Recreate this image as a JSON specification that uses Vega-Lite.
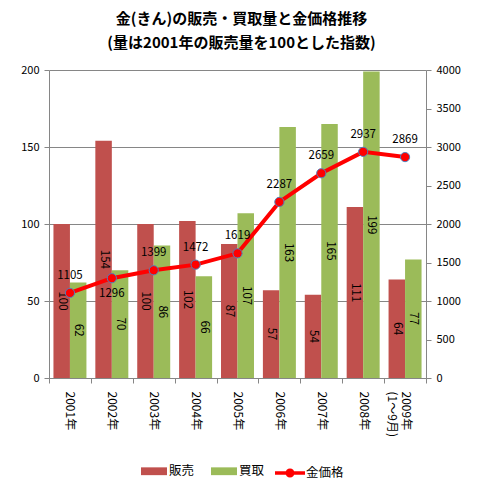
{
  "$schema": "https://vega.github.io/schema/vega-lite/v6.json",
  "width": 377,
  "height": 308,
  "autosize": {"type": "none"},
  "padding": {"left": 49, "top": 70, "right": 57, "bottom": 110},
  "background": "white",
  "title": {
    "text": ["金(きん)の販売・買取量と金価格推移", "(量は2001年の販売量を100とした指数)"],
    "font": "Noto Sans CJK JP",
    "fontSize": 15,
    "fontWeight": "bold",
    "lineHeight": 24,
    "anchor": "middle",
    "frame": "group",
    "offset": 13,
    "dx": 4,
    "color": "black"
  },
  "datasets": {
    "bars": [
      {"year": "2001年", "series": "販売", "value": 100},
      {"year": "2001年", "series": "買取", "value": 62},
      {"year": "2002年", "series": "販売", "value": 154},
      {"year": "2002年", "series": "買取", "value": 70},
      {"year": "2003年", "series": "販売", "value": 100},
      {"year": "2003年", "series": "買取", "value": 86},
      {"year": "2004年", "series": "販売", "value": 102},
      {"year": "2004年", "series": "買取", "value": 66},
      {"year": "2005年", "series": "販売", "value": 87},
      {"year": "2005年", "series": "買取", "value": 107},
      {"year": "2006年", "series": "販売", "value": 57},
      {"year": "2006年", "series": "買取", "value": 163},
      {"year": "2007年", "series": "販売", "value": 54},
      {"year": "2007年", "series": "買取", "value": 165},
      {"year": "2008年", "series": "販売", "value": 111},
      {"year": "2008年", "series": "買取", "value": 199},
      {"year": "2009年 (1～9月)", "series": "販売", "value": 64},
      {"year": "2009年 (1～9月)", "series": "買取", "value": 77}
    ],
    "price": [
      {"year": "2001年", "price": 1105},
      {"year": "2002年", "price": 1296},
      {"year": "2003年", "price": 1399},
      {"year": "2004年", "price": 1472},
      {"year": "2005年", "price": 1619},
      {"year": "2006年", "price": 2287},
      {"year": "2007年", "price": 2659},
      {"year": "2008年", "price": 2937},
      {"year": "2009年 (1～9月)", "price": 2869}
    ]
  },
  "config": {
    "view": {"stroke": null},
    "font": "Noto Sans CJK JP",
    "axis": {
      "domainColor": "#868686",
      "tickColor": "#868686",
      "gridColor": "#868686",
      "labelColor": "black",
      "labelFontSize": 11,
      "labelFont": "Noto Sans CJK JP",
      "tickSize": 5,
      "labelPadding": 5,
      "title": null
    },
    "legend": {
      "labelFont": "Noto Sans CJK JP",
      "labelFontSize": 12.5,
      "labelColor": "black",
      "padding": 0
    }
  },
  "layer": [
    {
      "data": {"name": "bars"},
      "mark": {"type": "bar"},
      "encoding": {
        "x": {
          "field": "year",
          "type": "nominal",
          "sort": null,
          "scale": {"paddingInner": 0, "paddingOuter": 0},
          "axis": {
            "tickBand": "extent",
            "labelAngle": 90,
            "labelAlign": "left",
            "labelBaseline": "middle",
            "labelPadding": 8,
            "labelFontSize": 12,
            "labelExpr": "split(datum.label, ' ')",
            "title": null
          }
        },
        "xOffset": {
          "field": "series",
          "type": "nominal",
          "sort": ["販売", "買取"],
          "scale": {"paddingInner": 0, "paddingOuter": 0.27}
        },
        "y": {
          "field": "value",
          "type": "quantitative",
          "scale": {"domain": [0, 200]},
          "axis": {"orient": "left", "values": [0, 50, 100, 150, 200], "grid": true, "title": null}
        },
        "color": {
          "field": "series",
          "type": "nominal",
          "scale": {"domain": ["販売", "買取"], "range": ["#C0504D", "#9BBB59"]},
          "legend": {
            "title": null,
            "orient": "none",
            "legendX": 92,
            "legendY": 388,
            "direction": "horizontal",
            "symbolType": "M-1,-0.3H1V0.3H-1Z",
            "symbolSize": 676,
            "symbolStrokeWidth": 0,
            "labelOffset": 2,
            "columnPadding": 16
          }
        }
      }
    },
    {
      "data": {"name": "bars"},
      "mark": {"type": "text", "angle": 90, "fontSize": 11.5, "align": "center", "baseline": "middle", "color": "black"},
      "encoding": {
        "x": {"field": "year", "type": "nominal", "sort": null},
        "xOffset": {"field": "series", "type": "nominal", "sort": ["販売", "買取"]},
        "y": {"field": "value", "type": "quantitative", "scale": {"domain": [0, 400]}, "axis": null},
        "text": {"field": "value", "type": "quantitative"}
      }
    },
    {
      "data": {"name": "price"},
      "mark": {"type": "line", "color": "#FF0000", "strokeWidth": 4},
      "encoding": {
        "x": {"field": "year", "type": "nominal", "sort": null},
        "y": {
          "field": "price",
          "type": "quantitative",
          "scale": {"domain": [0, 4000]},
          "axis": {"orient": "right", "values": [0, 500, 1000, 1500, 2000, 2500, 3000, 3500, 4000], "format": "d", "grid": false, "title": null}
        }
      }
    },
    {
      "data": {"name": "price"},
      "mark": {"type": "point", "filled": true, "stroke": "#4F81BD", "strokeWidth": 1, "size": 85, "opacity": 1},
      "encoding": {
        "x": {"field": "year", "type": "nominal", "sort": null},
        "y": {"field": "price", "type": "quantitative", "scale": {"domain": [0, 4000]}, "axis": null},
        "fill": {
          "datum": "金価格",
          "scale": {"domain": ["金価格"], "range": ["#FF0000"]},
          "legend": {
            "title": null,
            "orient": "none",
            "legendX": 226,
            "legendY": 388,
            "symbolType": "M-1,-0.12H1V0.12H-1Z M0.3,0A0.3,0.3 0 1 1 -0.3,0A0.3,0.3 0 1 1 0.3,0Z",
            "symbolSize": 900,
            "symbolStrokeWidth": 0,
            "labelOffset": 1
          }
        }
      }
    },
    {
      "data": {"name": "price"},
      "transform": [{"filter": "datum.year != '2002年'"}],
      "mark": {"type": "text", "dy": -17, "fontSize": 11.5, "align": "center", "baseline": "middle", "color": "black"},
      "encoding": {
        "x": {"field": "year", "type": "nominal", "sort": null},
        "y": {"field": "price", "type": "quantitative", "scale": {"domain": [0, 4000]}, "axis": null},
        "text": {"field": "price", "type": "quantitative", "format": "d"}
      }
    },
    {
      "data": {"name": "price"},
      "transform": [{"filter": "datum.year == '2002年'"}],
      "mark": {"type": "text", "dy": 16, "fontSize": 11.5, "align": "center", "baseline": "middle", "color": "black"},
      "encoding": {
        "x": {"field": "year", "type": "nominal", "sort": null},
        "y": {"field": "price", "type": "quantitative", "scale": {"domain": [0, 4000]}, "axis": null},
        "text": {"field": "price", "type": "quantitative", "format": "d"}
      }
    }
  ],
  "resolve": {"scale": {"y": "independent"}}
}
